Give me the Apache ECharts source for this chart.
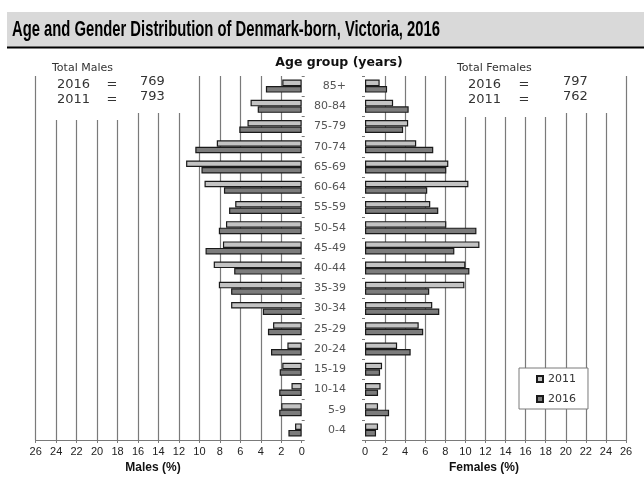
<!DOCTYPE html>
<html><head><meta charset="utf-8">
<script src="https://cdn.jsdelivr.net/npm/echarts@6/dist/echarts.min.js"></script>
<style>html,body{margin:0;padding:0;background:#fff}#c{width:644px;height:483px}</style>
</head><body><div id="c"></div>
<script>
const titleText = 'Age and Gender Distribution of Denmark-born, Victoria, 2016';
const ageGroups = ['85+','80-84','75-79','70-74','65-69','60-64','55-59','50-54','45-49','40-44','35-39','30-34','25-29','20-24','15-19','10-14','5-9','0-4'];
const males2011 = [1.9, 5.0, 5.3, 8.3, 11.3, 9.5, 6.5, 7.4, 7.7, 8.6, 8.1, 6.9, 2.8, 1.4, 1.9, 1.0, 2.0, 0.65];
const males2016 = [3.5, 4.3, 6.1, 10.4, 9.8, 7.6, 7.1, 8.1, 9.4, 6.6, 6.9, 3.8, 3.3, 3.0, 2.15, 2.2, 2.2, 1.3];
const females2011 = [1.46, 2.8, 4.3, 5.1, 8.3, 10.3, 6.5, 8.1, 11.4, 10.0, 9.9, 6.7, 5.35, 3.2, 1.7, 1.55, 1.3, 1.3];
const females2016 = [2.2, 4.35, 3.8, 6.8, 8.1, 6.2, 7.3, 11.1, 8.9, 10.4, 6.4, 7.4, 5.8, 4.55, 1.5, 1.3, 2.4, 1.1];
const totalYears = ['2016', '2011'];
const maleTotals = [769, 793];
const femaleTotals = [797, 762];
const seriesNames = ['2011', '2016'];
const axisMin = 0, axisMax = 26, axisStep = 2;

const C_LIGHT = '#c3c3c3', C_DARK = '#7c7c7c', C_GRID = '#7a7a7a';
const nLines = (axisMax - axisMin) / axisStep + 1;
const splitColors = Array.from({length: nLines}, (_, i) => i === 0 ? 'rgba(0,0,0,0)' : C_GRID);

const titleFont = 'bold 22px "Liberation Sans"';
const ctx = document.createElement('canvas').getContext('2d');
ctx.font = titleFont;
const titleScale = 428 / ctx.measureText(titleText).width;

function xAxisCfg(gridIndex, inverse) {
  return {
    type: 'value', gridIndex, min: axisMin, max: axisMax, interval: axisStep, inverse,
    axisLine: {show: true, lineStyle: {color: C_GRID, width: 1}},
    axisTick: {show: true, length: 3, lineStyle: {color: C_GRID}},
    axisLabel: {fontFamily: 'Liberation Sans', fontSize: 11, color: '#222', margin: 6},
    splitLine: {show: true, showMinLine: true, showMaxLine: true, lineStyle: {color: splitColors, width: 1.2}}
  };
}
function yAxisCfg(gridIndex, position, showLabel) {
  return {
    type: 'category', gridIndex, data: ageGroups, inverse: true, position,
    axisLine: {show: false},
    axisTick: {show: true, length: 3, lineStyle: {color: C_GRID}},
    axisLabel: {show: showLabel, fontFamily: 'DejaVu Sans', fontSize: 11, color: '#555', margin: 19, align: 'right'}
  };
}
function barSeries(name, data, idx, color) {
  return {
    name, type: 'bar', data, xAxisIndex: idx, yAxisIndex: idx,
    barWidth: 6.5, barGap: '0%',
    itemStyle: {color, borderColor: '#1a1a1a', borderWidth: 1.2},
    emphasis: {disabled: true}, animation: false
  };
}
function txt(text, x, y, opts) {
  opts = opts || {};
  return {
    type: 'text', x, y, z: 20,
    style: {
      text, font: opts.font || '11px "DejaVu Sans"', fill: opts.fill || '#333',
      textAlign: opts.align || 'left', align: opts.align || 'left',
      textVerticalAlign: 'middle', verticalAlign: 'middle'
    }
  };
}
function whiteRect(x, y, w, h) {
  return {type: 'rect', z: 10, shape: {x, y, width: w, height: h}, style: {fill: '#fff'}};
}

const numFont = '13px "DejaVu Sans"';
const graphics = [
  {type: 'rect', z: 5, shape: {x: 7, y: 12, width: 637, height: 35}, style: {fill: '#d9d9d9'}},
  {type: 'rect', z: 6, shape: {x: 7, y: 46.5, width: 637, height: 2}, style: {fill: '#000'}},
  {type: 'text', x: 12, y: 30, z: 20, scaleX: titleScale,
   style: {text: titleText, font: titleFont, fill: '#000', textAlign: 'left', align: 'left', textVerticalAlign: 'middle', verticalAlign: 'middle'}},
  whiteRect(45, 70, 83, 50),
  whiteRect(128, 70, 62, 43),
  whiteRect(455, 70, 101, 47),
  whiteRect(556, 70, 60, 43),
  txt('Age group (years)', 339, 63, {font: 'bold 12.5px "DejaVu Sans"', fill: '#111', align: 'center'}),
  txt('Total Males', 52, 68),
  txt('Total Females', 457, 68),
  txt('Males (%)', 153, 468, {font: 'bold 12px "Liberation Sans"', fill: '#111', align: 'center'}),
  txt('Females (%)', 484, 468, {font: 'bold 12px "Liberation Sans"', fill: '#111', align: 'center'})
];
totalYears.forEach((yr, i) => {
  const yy = 85 + i * 15;
  graphics.push(txt(yr, 57, yy, {font: numFont}));
  graphics.push(txt('=', 112, yy, {font: numFont, align: 'center'}));
  graphics.push(txt(String(maleTotals[i]), 140, yy - 3, {font: numFont}));
  graphics.push(txt(yr, 468, yy, {font: numFont}));
  graphics.push(txt('=', 524, yy, {font: numFont, align: 'center'}));
  graphics.push(txt(String(femaleTotals[i]), 563, yy - 3, {font: numFont}));
});

const chart = echarts.init(document.getElementById('c'), null, {renderer: 'canvas'});
chart.setOption({
  animation: false,
  backgroundColor: '#fff',
  grid: [
    {left: 35.7, top: 76, width: 266, height: 364},
    {left: 365, top: 76, width: 261, height: 364}
  ],
  xAxis: [xAxisCfg(0, true), xAxisCfg(1, false)],
  yAxis: [yAxisCfg(0, 'right', false), yAxisCfg(1, 'left', true)],
  legend: {
    data: seriesNames, orient: 'vertical', left: 519, top: 368,
    itemWidth: 6, itemHeight: 6, itemGap: 6, icon: 'rect',
    padding: [4, 12, 3, 17],
    borderColor: C_GRID, borderWidth: 1, backgroundColor: '#fff',
    textStyle: {fontFamily: 'DejaVu Sans', fontSize: 11, color: '#333', lineHeight: 14},
    selectedMode: false
  },
  series: [
    barSeries(seriesNames[0], males2011, 0, C_LIGHT),
    barSeries(seriesNames[1], males2016, 0, C_DARK),
    barSeries(seriesNames[0], females2011, 1, C_LIGHT),
    barSeries(seriesNames[1], females2016, 1, C_DARK)
  ],
  graphic: graphics
});
</script></body></html>
